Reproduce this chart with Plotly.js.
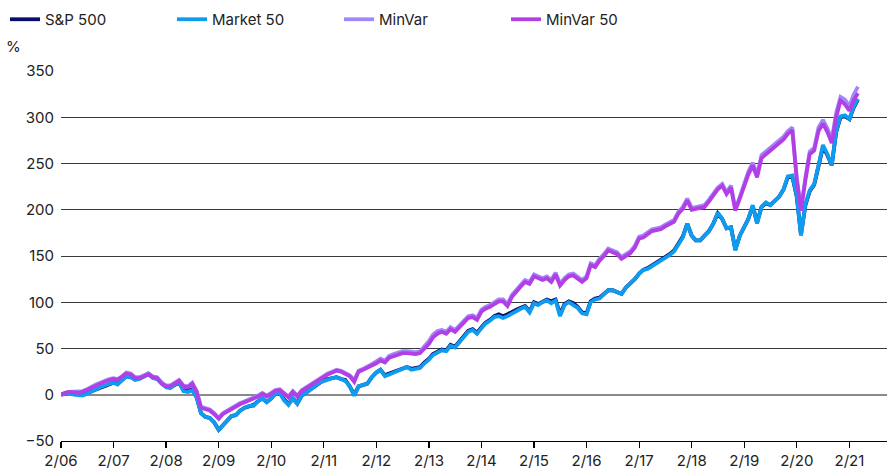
<!DOCTYPE html>
<html>
<head>
<meta charset="utf-8">
<script src="https://cdn.plot.ly/plotly-3.0.1.min.js"></script>
<style>
  html, body { margin: 0; padding: 0; background: #fff; }
  #chart { width: 887px; height: 474px; }
</style>
</head>
<body>
<div id="chart"></div>
<script>
// Monthly observations, starting February 2006
const startYear = 2006;
const startMonth = 2;
const seriesNames = ["S&P 500", "Market 50", "MinVar", "MinVar 50"];
const seriesColors = ["#0c0c6c", "#0e9cf0", "#a089f6", "#b23fe6"];

const sp500 = [
  0, 1, 2, 1, 0, 0, 2, 4, 6, 8, 10, 12,
  13, 12, 16, 20, 19, 17, 18, 21, 23, 19, 18, 13,
  9, 8, 11, 13, 5, 4, 6, -3, -20, -24, -25, -30,
  -38, -33, -28, -23, -22, -17, -14, -12, -11, -7, -4, -8,
  -4, 1, 2, -5, -10, -4, -9, -1, 3, 6, 9, 13,
  16, 17, 18, 19, 17, 16, 9, 0, 9, 10, 12, 19,
  24, 27, 21, 23, 25, 27, 29, 30, 28, 29, 30, 35,
  39, 44, 47, 49, 48, 54, 52, 58, 64, 69, 71, 67,
  73, 78, 81, 85, 87, 85, 87, 90, 92, 94, 96, 90,
  100, 98, 101, 103, 101, 103, 87, 98, 101, 99, 95, 89,
  88, 101, 104, 105, 109, 113, 113, 111, 109, 116, 120, 125,
  131, 135, 137, 140, 142, 145, 148, 152, 156, 164, 171, 185,
  172, 167, 167, 172, 177, 185, 196, 190, 180, 181, 157, 172,
  181, 190, 204, 186, 203, 207, 205, 210, 214, 222, 235, 236,
  214, 173, 205, 220, 227, 247, 268, 259, 248, 284, 300, 301, 298, 310, 319
];

const market50 = [
  0, 1, 2, 0, -1, -1, 1, 3, 6, 8, 10, 12,
  13, 11, 16, 20, 19, 16, 17, 20, 22, 18, 17, 12,
  8, 7, 11, 14, 4, 3, 5, -3, -20, -24, -25, -30,
  -38, -33, -28, -23, -22, -17, -14, -12, -12, -7, -4, -8,
  -4, 1, 2, -6, -11, -4, -10, -1, 2, 5, 9, 13,
  15, 17, 18, 19, 17, 15, 9, -1, 9, 10, 12, 19,
  24, 27, 20, 22, 24, 26, 28, 30, 27, 28, 29, 34,
  38, 43, 46, 48, 47, 53, 51, 57, 63, 68, 70, 66,
  72, 77, 80, 84, 85, 83, 85, 88, 90, 93, 95, 89,
  99, 97, 100, 102, 99, 102, 85, 97, 100, 97, 94, 88,
  87, 100, 103, 104, 108, 113, 113, 111, 109, 116, 120, 125,
  131, 135, 136, 139, 141, 144, 147, 151, 155, 163, 170, 185,
  172, 167, 167, 172, 177, 185, 197, 190, 180, 181, 156, 172,
  181, 190, 205, 185, 203, 208, 205, 210, 214, 222, 236, 237,
  215, 172, 206, 221, 228, 248, 270, 260, 248, 285, 301, 302, 298, 311, 320
];

const minVar = [
  0, 2, 3, 3, 3, 4, 6, 9, 11, 13, 15, 17,
  18, 17, 20, 24, 23, 19, 19, 21, 23, 20, 19, 13,
  10, 10, 13, 16, 10, 9, 13, 4, -13, -15, -16, -20,
  -25, -20, -17, -14, -12, -9, -7, -5, -4, -1, 2, -1,
  2, 5, 6, 2, -2, 4, -1, 5, 8, 11, 14, 17,
  21, 23, 25, 27, 26, 24, 21, 16, 26, 28, 30, 33,
  36, 39, 37, 42, 44, 46, 47, 47, 46, 46, 47, 52,
  58, 65, 69, 70, 68, 73, 70, 75, 80, 85, 86, 83,
  92, 95, 97, 100, 103, 103, 98, 108, 114, 119, 124, 122,
  130, 128, 126, 128, 124, 132, 120, 126, 130, 131, 128, 124,
  128, 142, 140, 147, 152, 158, 156, 154, 149, 152, 155, 161,
  171, 172, 176, 179, 180, 181, 184, 186, 189, 198, 203, 212,
  202, 203, 204, 205, 211, 217, 224, 228, 219, 226, 201, 214,
  229, 241, 251, 238, 259, 263, 268, 272, 275, 279, 285, 289,
  235, 201, 235, 263, 267, 289, 297, 288, 276, 305, 322, 319, 312, 324, 333
];

const minVar50 = [
  0, 2, 3, 2, 2, 3, 5, 8, 10, 12, 14, 16,
  17, 16, 19, 23, 22, 18, 18, 20, 22, 19, 18, 12,
  9, 9, 12, 15, 9, 8, 12, 3, -14, -16, -17, -21,
  -26, -21, -18, -15, -13, -10, -8, -6, -5, -2, 1, -2,
  1, 4, 5, 1, -3, 3, -2, 4, 7, 10, 13, 16,
  20, 22, 24, 26, 25, 23, 20, 14, 25, 27, 29, 31,
  34, 37, 35, 40, 42, 44, 45, 45, 44, 44, 45, 50,
  55, 62, 66, 68, 66, 71, 68, 73, 78, 83, 84, 81,
  90, 93, 95, 98, 101, 101, 96, 106, 112, 117, 122, 120,
  128, 126, 124, 126, 122, 130, 118, 124, 128, 129, 126, 122,
  126, 140, 138, 145, 150, 156, 154, 152, 147, 150, 153, 159,
  169, 170, 174, 177, 178, 179, 182, 184, 187, 196, 201, 210,
  200, 201, 202, 203, 209, 215, 222, 226, 217, 224, 199, 212,
  226, 238, 248, 235, 256, 260, 265, 269, 272, 276, 282, 286,
  232, 199, 232, 260, 264, 285, 293, 284, 272, 300, 318, 314, 307, 318, 326
];

const xTickVals = ["2006-02-01","2007-02-01","2008-02-01","2009-02-01","2010-02-01","2011-02-01","2012-02-01","2013-02-01","2014-02-01","2015-02-01","2016-02-01","2017-02-01","2018-02-01","2019-02-01","2020-02-01","2021-02-01"];
const xTickText = ["2/06","2/07","2/08","2/09","2/10","2/11","2/12","2/13","2/14","2/15","2/16","2/17","2/18","2/19","2/20","2/21"];
const yTickVals = [-50, 0, 50, 100, 150, 200, 250, 300, 350];
const yUnit = "%";

// Build monthly date strings for the series
const dates = [];
for (let i = 0; i < market50.length; i++) {
  const mIdx = (startMonth - 1) + i;
  const y = startYear + Math.floor(mIdx / 12);
  const m = (mIdx % 12) + 1;
  dates.push(y + "-" + String(m).padStart(2, "0") + "-01");
}

const allSeries = [sp500, market50, minVar, minVar50];
const traces = allSeries.map((vals, i) => ({
  type: "scatter",
  mode: "lines",
  name: seriesNames[i],
  x: dates,
  y: vals,
  line: { color: seriesColors[i], width: 3.8 },
  hoverinfo: "skip"
}));

const font = { family: "Inter, 'Noto Sans', sans-serif", size: 15, color: "#222" };

const layout = {
  width: 887,
  height: 474,
  margin: { l: 61, r: 0, t: 71, b: 33 },
  paper_bgcolor: "#fff",
  plot_bgcolor: "#fff",
  font: font,
  showlegend: true,
  legend: {
    orientation: "h",
    xref: "container",
    yref: "container",
    x: 5 / 887,
    xanchor: "left",
    y: 1 - 3 / 474,
    yanchor: "top",
    entrywidth: 122,
    entrywidthmode: "pixels",
    font: font,
    bgcolor: "rgba(0,0,0,0)",
    traceorder: "normal"
  },
  xaxis: {
    type: "date",
    range: ["2006-02-01", "2021-10-20"],
    tickmode: "array",
    tickvals: xTickVals,
    ticktext: xTickText,
    ticks: "outside",
    ticklen: 6,
    tickwidth: 1.2,
    tickcolor: "#000",
    showline: true,
    linecolor: "#000",
    linewidth: 1.2,
    showgrid: false,
    zeroline: false,
    tickfont: font,
    fixedrange: true
  },
  yaxis: {
    range: [-50, 350],
    tickmode: "array",
    tickvals: yTickVals,
    ticks: "",
    showline: false,
    showgrid: true,
    gridcolor: "#3a3a3a",
    gridwidth: 1,
    zeroline: true,
    zerolinecolor: "#8a8a8a",
    zerolinewidth: 2,
    tickfont: font,
    ticklabelstandoff: 6,
    fixedrange: true
  },
  annotations: [{
    text: yUnit,
    xref: "paper",
    yref: "paper",
    x: -0.058,
    y: 1.065,
    xanchor: "center",
    yanchor: "middle",
    showarrow: false,
    font: font
  }]
};

Plotly.newPlot("chart", traces, layout, { displayModeBar: false, staticPlot: true });
</script>
</body>
</html>
